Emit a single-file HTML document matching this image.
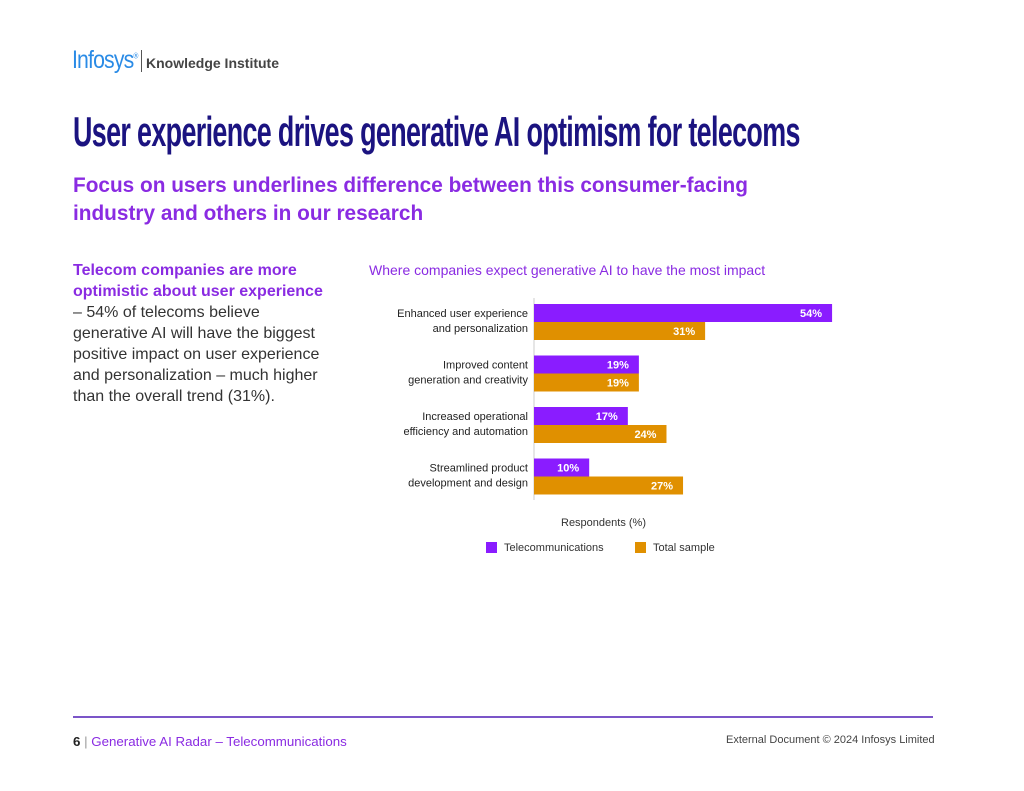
<!DOCTYPE html>
<html><head><meta charset="utf-8"><style>
body{margin:0;width:1024px;height:791px;background:#fff;position:relative;overflow:hidden;font-family:"Liberation Sans",sans-serif}
.a{position:absolute;white-space:nowrap}
</style></head><body>
<div class="a" style="left:72px;top:46px;font-size:25px;color:#2a8be6;letter-spacing:-1px;transform:scaleX(0.85);transform-origin:left">Infosys<sup style="font-size:8px">®</sup></div>
<div class="a" style="left:141px;top:50px;width:1px;height:22px;background:#555"></div>
<div class="a" style="left:146px;top:55px;font-size:14px;font-weight:bold;color:#444">Knowledge Institute</div>
<div class="a" style="left:73px;top:108px;font-size:42px;font-weight:bold;color:#1b1380;transform:scaleX(0.64);transform-origin:left;letter-spacing:-1px">User experience drives generative AI optimism for telecoms</div>
<div class="a" style="left:73px;top:172px;font-size:20.8px;font-weight:bold;color:#8a2be2;line-height:28px">Focus on users underlines difference between this consumer-facing<br>industry and others in our research</div>
<div class="a" style="left:73px;top:260px;font-size:16px;line-height:21px;color:#333">
<b style="color:#8a2be2">Telecom companies are more<br>optimistic about user experience</b><br>– 54% of telecoms believe<br>generative AI will have the biggest<br>positive impact on user experience<br>and personalization – much higher<br>than the overall trend (31%).</div>
<div class="a" style="left:369px;top:262px;font-size:14px;color:#8a2be2">Where companies expect generative AI to have the most impact</div>
<svg class="a" style="left:0;top:0" width="1024" height="791" id="chart"></svg>
<div class="a" style="left:561px;top:517px;font-size:11px;color:#333">Respondents (%)</div>
<div class="a" style="left:486px;top:542px;font-size:11px;color:#333"><span style="display:inline-block;width:11px;height:11px;background:#8a1cff;vertical-align:-2px;margin-right:7px"></span>Telecommunications</div>
<div class="a" style="left:635px;top:542px;font-size:11px;color:#333"><span style="display:inline-block;width:11px;height:11px;background:#e09000;vertical-align:-2px;margin-right:7px"></span>Total sample</div>
<div class="a" style="left:73px;top:716px;width:860px;height:2px;background:#7b55c8"></div>
<div class="a" style="left:73px;top:734px;font-size:13.3px;color:#8a2be2"><b style="color:#222">6</b> <span style="color:#999">|</span> Generative AI Radar – Telecommunications</div>
<div class="a" style="left:726px;top:734px;font-size:11px;color:#444">External Document © 2024 Infosys Limited</div>
<script>
const categories=[["Enhanced user experience","and personalization"],["Improved content","generation and creativity"],["Increased operational","efficiency and automation"],["Streamlined product","development and design"]];
const telecom=[54,19,17,10];
const total=[31,19,24,27];
const svg=document.getElementById('chart');
const NS='http://www.w3.org/2000/svg';
const x0=534,k=5.52,y0=304,gap=51.5,bh=18;
const xs=v=>v*k;
function mk(t,a){const e=document.createElementNS(NS,t);for(const n in a)e.setAttribute(n,a[n]);svg.appendChild(e);return e;}
const ax=mk('line',{x1:x0,x2:x0,y1:298,y2:500,stroke:'#ccc','stroke-width':1});


categories.forEach((c,i)=>{
  const y=y0+i*gap;
  [[telecom[i],'#8a1cff',0,'bar-telecom'],[total[i],'#e09000',bh,'bar-total']].forEach(([v,col,off,nm])=>{
    const r=mk('rect',{x:x0,y:y+off,width:xs(v),height:bh,fill:col});
    
    
    const t=mk('text',{x:x0+xs(v)-10,y:y+off+13,'text-anchor':'end','font-size':11,'font-weight':'bold',fill:'#fff','font-family':'Liberation Sans'});
    t.textContent=v+'%';
    
    
  });
  c.forEach((ln,j)=>{
    const t=mk('text',{x:528,y:y+13+j*15,'text-anchor':'end','font-size':11,fill:'#222','font-family':'Liberation Sans'});
    t.textContent=ln;
    
    
  });
});
</script>
</body></html>
